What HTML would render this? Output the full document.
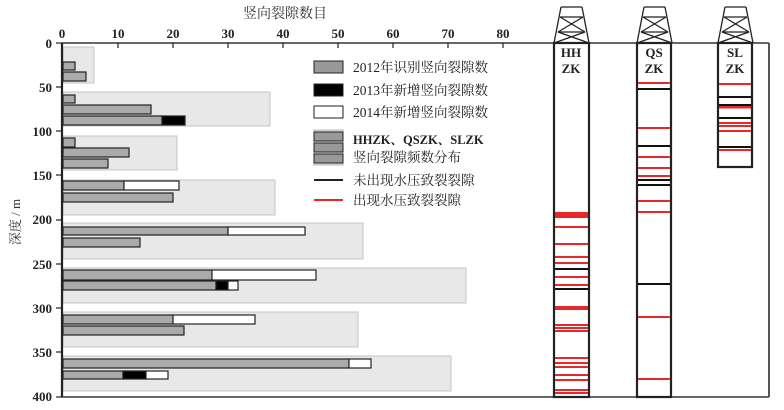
<!DOCTYPE html>
<html><head><meta charset="utf-8"><style>
body{margin:0;background:#fff;}
svg{display:block;font-family:"Liberation Serif","Noto Serif CJK SC",serif;}
</style></head><body>
<svg width="784" height="410" viewBox="0 0 784 410" xmlns="http://www.w3.org/2000/svg">
<rect width="784" height="410" fill="#fff"/>
<text x="285" y="18" font-size="14" text-anchor="middle" fill="#333">竖向裂隙数目</text>
<g font-size="13" font-weight="bold" fill="#222" text-anchor="middle">
<text x="62" y="38">0</text><text x="118" y="38">10</text><text x="173" y="38">20</text><text x="228" y="38">30</text><text x="283" y="38">40</text><text x="338" y="38">50</text><text x="393" y="38">60</text><text x="448" y="38">70</text><text x="503" y="38">80</text>
</g>
<g font-size="13" font-weight="bold" fill="#222" text-anchor="end">
<text x="52" y="48">0</text><text x="52" y="92">50</text><text x="52" y="136">100</text><text x="52" y="180">150</text><text x="52" y="224">200</text><text x="52" y="269">250</text><text x="52" y="313">300</text><text x="52" y="357">350</text><text x="52" y="401">400</text>
</g>
<text transform="translate(20,222) rotate(-90)" font-size="13" text-anchor="middle" fill="#333">深度 / m</text>
<g fill="#e8e8e8" stroke="#c4c4c4" stroke-width="1">
<rect x="63" y="47" width="31" height="36"/>
<rect x="63" y="92" width="207" height="34"/>
<rect x="63" y="136" width="114" height="34"/>
<rect x="63" y="180" width="212" height="35"/>
<rect x="63" y="223" width="300" height="36"/>
<rect x="63" y="268" width="403" height="35"/>
<rect x="63" y="312" width="295" height="35"/>
<rect x="63" y="356" width="388" height="35"/>
</g>
<g stroke="#222" stroke-width="1.2">
<g fill="#aaa">
<rect x="63" y="62" width="12" height="8"/><rect x="63" y="72" width="23" height="9"/>
<rect x="63" y="95" width="12" height="8"/><rect x="63" y="105" width="88" height="9"/><rect x="63" y="116" width="99" height="9"/>
<rect x="63" y="138" width="12" height="9"/><rect x="63" y="148" width="66" height="9"/><rect x="63" y="159" width="45" height="9"/>
<rect x="63" y="181" width="61" height="9"/><rect x="63" y="193" width="110" height="9"/>
<rect x="63" y="227" width="165" height="8"/><rect x="63" y="238" width="77" height="9"/>
<rect x="63" y="270" width="149" height="10"/><rect x="63" y="281" width="153" height="9"/>
<rect x="63" y="315" width="110" height="9"/><rect x="63" y="326" width="121" height="9"/>
<rect x="63" y="359" width="286" height="9"/><rect x="63" y="371" width="60" height="8"/>
</g>
<g fill="#000"><rect x="162" y="116" width="23" height="9"/><rect x="216" y="281" width="12" height="9"/><rect x="123" y="371" width="23" height="8"/></g>
<g fill="#fff"><rect x="124" y="181" width="55" height="9"/><rect x="228" y="227" width="77" height="8"/><rect x="212" y="270" width="104" height="10"/><rect x="228" y="281" width="10" height="9"/><rect x="173" y="315" width="82" height="9"/><rect x="349" y="359" width="22" height="9"/><rect x="146" y="371" width="22" height="8"/></g>
</g>
<line x1="62" y1="43" x2="769" y2="43" stroke="#333" stroke-width="1.5"/>
<line x1="62" y1="43" x2="62" y2="397" stroke="#222" stroke-width="2.2"/>
<line x1="62" y1="397" x2="769" y2="397" stroke="#333" stroke-width="1.5"/>
<line x1="769" y1="43" x2="769" y2="397" stroke="#444" stroke-width="1.8"/>
<g stroke="#222" stroke-width="1.2">
<line x1="118" y1="43" x2="118" y2="48"/><line x1="173" y1="43" x2="173" y2="48"/><line x1="228" y1="43" x2="228" y2="48"/><line x1="283" y1="43" x2="283" y2="48"/><line x1="338" y1="43" x2="338" y2="48"/><line x1="393" y1="43" x2="393" y2="48"/><line x1="448" y1="43" x2="448" y2="48"/><line x1="503" y1="43" x2="503" y2="48"/>
<line x1="56" y1="43" x2="62" y2="43"/><line x1="56" y1="87" x2="62" y2="87"/><line x1="56" y1="131" x2="62" y2="131"/><line x1="56" y1="175" x2="62" y2="175"/><line x1="56" y1="220" x2="62" y2="220"/><line x1="56" y1="264" x2="62" y2="264"/><line x1="56" y1="308" x2="62" y2="308"/><line x1="56" y1="352" x2="62" y2="352"/><line x1="56" y1="397" x2="62" y2="397"/>
</g>
<g stroke="#222" stroke-width="1">
<rect x="314" y="61" width="29" height="12" fill="#999"/>
<rect x="314" y="84" width="29" height="12" fill="#000"/>
<rect x="314" y="106" width="29" height="12" fill="#fff"/>
<rect x="314" y="130" width="29" height="35" fill="#ddd" stroke="#bbb"/>
<rect x="314" y="132" width="29" height="9" fill="#999"/>
<rect x="314" y="143" width="29" height="9" fill="#999"/>
<rect x="314" y="154" width="29" height="9" fill="#999"/>
</g>
<line x1="314" y1="180" x2="343" y2="180" stroke="#222" stroke-width="2"/>
<line x1="314" y1="200" x2="343" y2="200" stroke="#e82828" stroke-width="2"/>
<g font-size="13.5" fill="#222">
<text x="353" y="72">2012年识别竖向裂隙数</text>
<text x="353" y="95">2013年新增竖向裂隙数</text>
<text x="353" y="117">2014年新增竖向裂隙数</text>
<text x="353" y="144" font-size="12.5" font-weight="bold">HHZK、QSZK、SLZK</text>
<text x="353" y="162">竖向裂隙频数分布</text>
<text x="353" y="185">未出现水压致裂裂隙</text>
<text x="353" y="205">出现水压致裂裂隙</text>
</g>
<defs><g id="d" fill="none" stroke="#222" stroke-width="1.3">
<line x1="7" y1="7" x2="28" y2="7"/><line x1="6" y1="17" x2="29" y2="17"/><line x1="4" y1="32" x2="31" y2="32"/>
<line x1="7" y1="7" x2="0" y2="43"/><line x1="28" y1="7" x2="35" y2="43"/>
<line x1="6" y1="17" x2="31" y2="32"/><line x1="29" y1="17" x2="4" y2="32"/>
<line x1="4" y1="32" x2="35" y2="43"/><line x1="31" y1="32" x2="0" y2="43"/>
</g></defs>
<use href="#d" x="554"/><use href="#d" x="637"/><use href="#d" x="718"/>
<g fill="#fff" stroke="#222" stroke-width="2.2">
<rect x="554" y="43" width="35" height="354"/>
<rect x="637" y="43" width="34" height="354"/>
<rect x="718" y="43" width="34" height="124"/>
</g>
<g font-size="13" font-weight="bold" fill="#222" text-anchor="middle">
<text x="571" y="57">HH</text><text x="571" y="73">ZK</text>
<text x="654" y="57">QS</text><text x="654" y="73">ZK</text>
<text x="735" y="57">SL</text><text x="735" y="73">ZK</text>
</g>
<g stroke="#e82828" stroke-width="2">
<line x1="555" y1="213" x2="588" y2="213"/><line x1="555" y1="215" x2="588" y2="215"/><line x1="555" y1="217" x2="588" y2="217"/>
<line x1="555" y1="227" x2="588" y2="227"/><line x1="555" y1="244" x2="588" y2="244"/><line x1="555" y1="257" x2="588" y2="257"/><line x1="555" y1="263" x2="588" y2="263"/>
<line x1="555" y1="277" x2="588" y2="277"/><line x1="555" y1="285" x2="588" y2="285"/>
<line x1="555" y1="308" x2="588" y2="308" stroke-width="4"/>
<line x1="555" y1="325" x2="588" y2="325"/><line x1="555" y1="328" x2="588" y2="328"/><line x1="555" y1="331" x2="588" y2="331"/>
<line x1="555" y1="358" x2="588" y2="358"/><line x1="555" y1="363" x2="588" y2="363"/><line x1="555" y1="367" x2="588" y2="367"/><line x1="555" y1="375" x2="588" y2="375"/><line x1="555" y1="380" x2="588" y2="380"/><line x1="555" y1="390" x2="588" y2="390"/><line x1="555" y1="393" x2="588" y2="393"/>
<line x1="638" y1="83" x2="670" y2="83"/><line x1="638" y1="128" x2="670" y2="128"/><line x1="638" y1="157" x2="670" y2="157"/><line x1="638" y1="168" x2="670" y2="168"/><line x1="638" y1="176" x2="670" y2="176"/><line x1="638" y1="201" x2="670" y2="201"/><line x1="638" y1="212" x2="670" y2="212"/><line x1="638" y1="317" x2="670" y2="317"/><line x1="638" y1="379" x2="670" y2="379"/>
<line x1="719" y1="84" x2="751" y2="84"/><line x1="719" y1="107" x2="751" y2="107" stroke-width="3"/><line x1="719" y1="123" x2="751" y2="123"/><line x1="719" y1="126" x2="751" y2="126"/><line x1="719" y1="131" x2="751" y2="131"/><line x1="719" y1="150" x2="751" y2="150"/>
</g>
<g stroke="#111" stroke-width="2">
<line x1="555" y1="269" x2="588" y2="269"/><line x1="555" y1="289" x2="588" y2="289"/>
<line x1="638" y1="89" x2="670" y2="89"/><line x1="638" y1="146" x2="670" y2="146"/><line x1="638" y1="180" x2="670" y2="180"/><line x1="638" y1="185" x2="670" y2="185"/><line x1="638" y1="284" x2="670" y2="284"/>
<line x1="719" y1="97" x2="751" y2="97"/><line x1="719" y1="105" x2="751" y2="105"/><line x1="719" y1="118" x2="751" y2="118"/><line x1="719" y1="147" x2="751" y2="147"/>
</g>
</svg>
</body></html>
